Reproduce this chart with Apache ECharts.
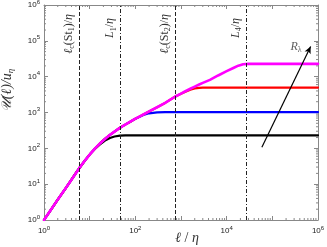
<!DOCTYPE html>
<html><head><meta charset="utf-8">
<script src="https://cdn.jsdelivr.net/npm/echarts@6/dist/echarts.min.js"></script>
<style>html,body{margin:0;padding:0;background:#fff}#c{width:327px;height:247px}</style>
</head><body><div id="c"></div>
<script>
// ---- data ----
const ell      = [1, 1.5, 2, 3, 4, 5.2, 5.9, 8, 10.2, 13, 16.8, 21.6, 27.8, 35, 46, 60, 76, 98, 125, 150, 200, 300, 450, 736, 1000, 1217, 1600, 2000, 2500, 3000, 4300, 6500, 10000, 14000, 18000, 23000, 30000, 100000, 1000000];
const uMagenta = [1, 2.15, 3.7, 7.8, 13.3, 21.9, 27.8, 47, 69, 98, 137, 183, 238, 293, 375, 460, 545, 660, 779, 880, 1070, 1400, 1850, 2750, 3380, 3850, 4600, 5300, 6060, 6700, 8150, 10800, 14200, 17500, 20300, 22300, 22800, 22800, 22800];
const uRed     = [1, 2.15, 3.7, 7.8, 13.3, 21.9, 27.8, 47, 69, 98, 137, 183, 238, 293, 375, 460, 545, 660, 779, 880, 1070, 1400, 1850, 2750, 3330, 3750, 4350, 4700, 4880, 4950, 4970, 4970, 4970, 4970, 4970, 4970, 4970, 4970, 4970];
const uBlue    = [1, 2.15, 3.7, 7.8, 13.3, 21.9, 27.8, 47, 69, 98, 137, 183, 238, 293, 375, 460, 545, 660, 760, 850, 950, 1010, 1030, 1030, 1030, 1030, 1030, 1030, 1030, 1030, 1030, 1030, 1030, 1030, 1030, 1030, 1030, 1030, 1030];
const uBlack   = [1, 2.15, 3.7, 7.8, 13.3, 21.9, 27.8, 47, 69, 96, 128, 165, 195, 214, 225, 229, 230, 230, 230, 230, 230, 230, 230, 230, 230, 230, 230, 230, 230, 230, 230, 230, 230, 230, 230, 230, 230, 230, 230];
const vLineValues = [5.9, 47.7, 748, 26300];
const vLineKinds  = ['dashed', 'dashdot', 'dashed', 'dashdot'];
const vLineTexts  = ['{i|ℓ}{s|c}{n|(St}{s|1}{n|)/}{i|η}', '{i|L}{s|1}{n|/}{i|η}', '{i|ℓ}{s|c}{n|(St}{s|2}{n|)/}{i|η}', '{i|L}{s|4}{n|/}{i|η}'];
const arrowStart = [59000, 107];
const arrowEnd   = [690000, 69000];
const rLambdaAt  = [330000, 70000];
const xLabelExps = [0, 2, 4, 6];
const yLabelExps = [0, 1, 2, 3, 4, 5, 6];
const minorMantissas = [2, 3, 4, 5, 6, 7, 8, 9];
const decades = [1, 10, 100, 1000, 10000, 100000];

const minorVals = [];
decades.forEach(d => minorMantissas.forEach(m => minorVals.push(m * d)));

const FRAME = '#888';
const serif = 'Liberation Serif';
const richMath = {
  i: {fontFamily: serif, fontStyle: 'italic', fontSize: 12, lineHeight: 15, color: '#333'},
  n: {fontFamily: serif, fontSize: 12, lineHeight: 15, color: '#333'},
  s: {fontFamily: serif, fontSize: 8, lineHeight: 9, verticalAlign: 'bottom', color: '#333'}
};
const richTick = {
  b: {fontFamily: 'Liberation Sans', fontSize: 8, lineHeight: 12, color: '#222'},
  p: {fontFamily: 'Liberation Sans', fontSize: 6, lineHeight: 6, verticalAlign: 'top', color: '#222'}
};
const exp = v => Math.round(Math.log10(v));

const chart = echarts.init(document.getElementById('c'), null, {renderer: 'canvas'});
const mk = (ys) => ell.map((x, k) => [x, ys[k]]);
const lineSeries = (name, ys, color, w) => ({
  name, type: 'line', data: mk(ys), symbol: 'none', smooth: false,
  lineStyle: {color, width: w, cap: 'round', join: 'round'}, z: 3, silent: true
});
const dashFor = k => k === 'dashed' ? [4, 2] : [4, 2, 1, 2];

const option = {
  animation: false,
  grid: {left: 44, right: 9, top: 5, bottom: 27, outerBoundsMode: 'none', containLabel: false},
  xAxis: [{
    type: 'log', logBase: 10, min: 1, max: 1e6, splitNumber: 6,
    axisLine: {show: true, lineStyle: {color: FRAME, width: 1}},
    axisTick: {show: true, inside: true, length: 4, lineStyle: {color: FRAME}},
    splitLine: {show: false},
    axisLabel: {margin: 5, formatter: v => xLabelExps.includes(exp(v)) ? '{b|10}{p|' + exp(v) + '}' : '', rich: richTick},
    name: '{i|ℓ}{n| / }{i|η}', nameLocation: 'middle', nameGap: 11, nameMoveOverlap: false,
    nameTextStyle: {verticalAlign: 'top', padding: [0, 0, 0, 12], rich: {i: {fontFamily: serif, fontStyle: 'italic', fontSize: 14, lineHeight: 14, color: '#333'}, n: {fontFamily: serif, fontSize: 14, lineHeight: 14, color: '#333'}}}
  }, {
    type: 'log', logBase: 10, min: 1, max: 1e6, splitNumber: 6, position: 'top',
    axisLine: {show: true, lineStyle: {color: FRAME, width: 1}},
    axisTick: {show: true, inside: true, length: 4, lineStyle: {color: FRAME}},
    axisLabel: {show: false}, splitLine: {show: false}
  }],
  yAxis: [{
    type: 'log', logBase: 10, min: 1, max: 1e6, splitNumber: 6,
    axisLine: {show: true, lineStyle: {color: FRAME, width: 1}},
    axisTick: {show: true, inside: true, length: 4, lineStyle: {color: FRAME}},
    splitLine: {show: false},
    axisLabel: {margin: 4, formatter: v => yLabelExps.includes(exp(v)) ? '{b|10}{p|' + exp(v) + '}' : '', rich: richTick},
    name: '{i|𝒰(ℓ)/u}{s|η}', nameLocation: 'middle', nameGap: 29, nameRotate: 90, nameMoveOverlap: false,
    nameTextStyle: {padding: [0, 0, 0, 44], rich: {
      i: {fontFamily: serif, fontStyle: 'italic', fontSize: 14, lineHeight: 16, color: '#333'},
      s: {fontFamily: serif, fontStyle: 'italic', fontSize: 9, lineHeight: 9, verticalAlign: 'bottom', color: '#333'}
    }}
  }, {
    type: 'log', logBase: 10, min: 1, max: 1e6, splitNumber: 6, position: 'right',
    axisLine: {show: true, lineStyle: {color: FRAME, width: 1}},
    axisTick: {show: true, inside: true, length: 4, lineStyle: {color: FRAME}},
    axisLabel: {show: false}, splitLine: {show: false}
  }],
  series: [
    lineSeries('black', uBlack, '#000000', 2.2),
    lineSeries('blue', uBlue, '#0000ff', 2.2),
    lineSeries('red', uRed, '#ff0000', 2.2),
    Object.assign(lineSeries('magenta', uMagenta, '#ff00ff', 2.6), {
      markLine: {
        silent: true, symbol: ['none', 'none'], animation: false,
        data: vLineValues.map((v, k) => ({
          xAxis: v,
          lineStyle: {color: '#222', width: 1, type: dashFor(vLineKinds[k]), cap: 'butt'},
          label: {show: true, position: 'insideEndTop', distance: 3, formatter: vLineTexts[k], rich: richMath,
                  padding: vLineKinds[k] === 'dashdot' ? [0, 10, 0, 0] : [0, 6, 0, 0]}
        })).concat([[
          {coord: arrowStart, symbol: 'none'},
          {coord: arrowEnd, symbol: 'arrow', symbolSize: [5, 7],
           lineStyle: {color: '#000', width: 1.2, type: 'solid'}, label: {show: false}}
        ]])
      }
    }),
    {
      type: 'scatter', data: [rLambdaAt], symbol: 'circle', symbolSize: 0, silent: true, z: 5,
      itemStyle: {color: 'transparent'},
      label: {show: true, position: 'inside', formatter: '{i|R}{s|λ}', rich: richMath}
    },
    {
      type: 'custom', xAxisIndex: 0, yAxisIndex: 0, silent: true, clip: false,
      data: minorVals.map(v => [v, 1]),
      renderItem: (p, api) => {
        const v = api.value(0);
        const b = api.coord([v, 1]), t = api.coord([v, 1e6]);
        const st = {stroke: FRAME, lineWidth: 1};
        return {type: 'group', children: [
          {type: 'line', shape: {x1: b[0], y1: b[1], x2: b[0], y2: b[1] - 2}, style: st},
          {type: 'line', shape: {x1: t[0], y1: t[1], x2: t[0], y2: t[1] + 2}, style: st}
        ]};
      }
    },
    {
      type: 'custom', xAxisIndex: 0, yAxisIndex: 0, silent: true, clip: false,
      data: minorVals.map(v => [1, v]),
      renderItem: (p, api) => {
        const v = api.value(1);
        const l = api.coord([1, v]), r = api.coord([1e6, v]);
        const st = {stroke: FRAME, lineWidth: 1};
        return {type: 'group', children: [
          {type: 'line', shape: {x1: l[0], y1: l[1], x2: l[0] + 2, y2: l[1]}, style: st},
          {type: 'line', shape: {x1: r[0], y1: r[1], x2: r[0] - 2, y2: r[1]}, style: st}
        ]};
      }
    }
  ]
};
chart.setOption(option);
</script></body></html>
